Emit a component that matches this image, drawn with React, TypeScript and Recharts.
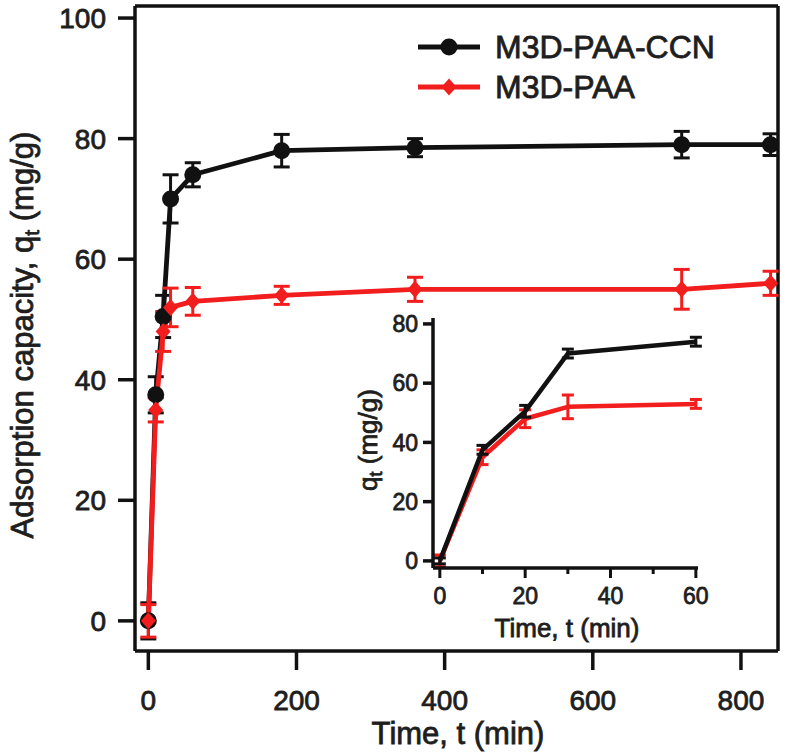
import React from 'react';
import { ComposedChart, LineChart, Line, XAxis, YAxis, ErrorBar, ReferenceLine } from 'recharts';

const times = [0, 10, 20, 30, 60, 180, 360, 720, 840];
const ccnValues = [0, 37.5, 50.5, 70, 74, 78, 78.5, 79, 79];
const ccnErrors = [3, 3, 3.5, 4, 2, 2.7, 1.5, 2.2, 1.8];
const paaValues = [0, 35, 48, 52, 53, 54, 55, 55, 56];
const paaErrors = [2.7, 2, 3.3, 3.2, 2.3, 1.5, 2, 3.3, 2];

// the inset shows the first hour with its own (smaller) error bars
const insetMaxTime = 60;
const insetCcnErrors = [1, 1.5, 2, 1.5, 1.5];
const insetPaaErrors = [2, 2.5, 3, 4, 1.5];

const mainXTicks = [0, 200, 400, 600, 800];
const mainYTicks = [0, 20, 40, 60, 80, 100];
const insetXTicks = [0, 10, 20, 30, 40, 50, 60];
const insetXLabels = [0, 20, 40, 60];
const insetYTicks = [0, 20, 40, 60, 80];

const BLACK = '#111111';
const RED = '#f21d1d';
const TEXT = '#1e1e1e';
const FONT = '"Liberation Sans", Arial, Helvetica, sans-serif';
const HEAVY = 0.8; // a thin outline makes the text look as heavy as the scanned figure

const rows = times.map((t, i) => ({
  t,
  ccn: ccnValues[i],
  ccnErr: ccnErrors[i],
  paa: paaValues[i],
  paaErr: paaErrors[i],
}));

const insetRows = rows
  .filter((r) => r.t <= insetMaxTime)
  .map((r, i) => ({ ...r, ccnErr: insetCcnErrors[i], paaErr: insetPaaErrors[i] }));

const textStyle = { fill: TEXT, stroke: TEXT, strokeWidth: HEAVY, fontFamily: FONT };

const Diamond = (props: any) => {
  const { cx, cy, index } = props;
  if (cx == null || cy == null) return null;
  return (
    <path
      key={`d-${index}`}
      d={`M${cx},${cy - 8.5}L${cx + 7.5},${cy}L${cx},${cy + 8.5}L${cx - 7.5},${cy}Z`}
      fill={RED}
    />
  );
};

const renderInsetTick = (props: any) => {
  const { x, y, payload } = props;
  const major = insetXLabels.includes(payload.value);
  return (
    <g key={`it-${payload.value}`}>
      <line x1={x} x2={x} y1={y} y2={y + (major ? 10 : 6)} stroke={BLACK} strokeWidth={3} />
      {major && (
        <text x={x} y={y + 20} dy="0.71em" textAnchor="middle" fontSize={23} {...textStyle}>
          {payload.value}
        </text>
      )}
    </g>
  );
};

const LegendRow = ({ color, label, diamond }: { color: string; label: string; diamond?: boolean }) => (
  <div style={{ display: 'flex', alignItems: 'center', height: 40 }}>
    <svg width={62} height={20}>
      <line x1={0} x2={62} y1={10} y2={10} stroke={color} strokeWidth={5} />
      {diamond ? (
        <path d="M31,1.5L38.5,10L31,18.5L23.5,10Z" fill={color} />
      ) : (
        <circle cx={31} cy={10} r={8.5} fill={color} />
      )}
    </svg>
    <span
      style={{
        marginLeft: 15,
        fontSize: 32,
        lineHeight: '40px',
        color: TEXT,
        fontFamily: FONT,
        WebkitTextStroke: `${HEAVY}px ${TEXT}`,
      }}
    >
      {label}
    </span>
  </div>
);

export default function App() {
  return (
    <div style={{ position: 'absolute', left: 0, top: 0, width: 787, height: 756, background: '#fff', fontFamily: FONT }}>
      <div style={{ position: 'absolute', left: 0, top: 0 }}>
        <ComposedChart width={787} height={756} data={rows} margin={{ top: 6, right: 9, bottom: 0, left: 0 }}>
          <XAxis
            dataKey="t"
            type="number"
            domain={[-18, 850]}
            ticks={mainXTicks}
            interval={0}
            allowDataOverflow
            height={105}
            tickSize={19}
            tickMargin={20}
            stroke={BLACK}
            strokeWidth={3.5}
            tick={{ ...textStyle, fontSize: 28 }}
          />
          <YAxis
            type="number"
            domain={[-5, 102]}
            ticks={mainYTicks}
            interval={0}
            allowDataOverflow
            width={135}
            tickSize={17}
            tickMargin={12}
            stroke={BLACK}
            strokeWidth={3.5}
            tick={{ ...textStyle, fontSize: 28 }}
          />
          <ReferenceLine x={850} stroke={BLACK} strokeWidth={3.5} />
          <ReferenceLine y={102} stroke={BLACK} strokeWidth={3.5} />
          <Line
            dataKey="ccn"
            stroke={BLACK}
            strokeWidth={4.8}
            strokeLinejoin="round"
            dot={{ r: 8.5, fill: BLACK, stroke: BLACK, strokeWidth: 0 }}
            isAnimationActive={false}
          >
            <ErrorBar dataKey="ccnErr" width={8} strokeWidth={3} stroke={BLACK} isAnimationActive={false} />
          </Line>
          <Line
            dataKey="paa"
            stroke={RED}
            strokeWidth={4.8}
            strokeLinejoin="round"
            dot={Diamond}
            isAnimationActive={false}
          >
            <ErrorBar dataKey="paaErr" width={8} strokeWidth={3} stroke={RED} isAnimationActive={false} />
          </Line>
        </ComposedChart>
      </div>

      <div style={{ position: 'absolute', left: 340, top: 300 }}>
        <LineChart width={400} height={345} data={insetRows} margin={{ top: 18, right: 42, bottom: 0, left: 0 }}>
          <XAxis
            dataKey="t"
            type="number"
            domain={[-1.6, 60.5]}
            ticks={insetXTicks}
            interval={0}
            allowDataOverflow
            height={77}
            tickLine={false}
            tickSize={0}
            tickMargin={0}
            stroke={BLACK}
            strokeWidth={3.5}
            tick={renderInsetTick}
          />
          <YAxis
            type="number"
            domain={[-2.4, 82]}
            ticks={insetYTicks}
            interval={0}
            allowDataOverflow
            width={93}
            tickSize={10}
            tickMargin={5}
            stroke={BLACK}
            strokeWidth={3.5}
            tick={{ ...textStyle, fontSize: 23 }}
          />
          <Line dataKey="paa" stroke={RED} strokeWidth={4.5} strokeLinejoin="round" dot={false} isAnimationActive={false}>
            <ErrorBar dataKey="paaErr" width={6} strokeWidth={3} stroke={RED} isAnimationActive={false} />
          </Line>
          <Line dataKey="ccn" stroke={BLACK} strokeWidth={4.5} strokeLinejoin="round" dot={false} isAnimationActive={false}>
            <ErrorBar dataKey="ccnErr" width={6} strokeWidth={3} stroke={BLACK} isAnimationActive={false} />
          </Line>
        </LineChart>
      </div>

      <svg width={787} height={756} style={{ position: 'absolute', left: 0, top: 0, pointerEvents: 'none' }}>
        <text x={33} y={335} transform="rotate(-90 33 335)" textAnchor="middle" fontSize={31} {...textStyle}>
          Adsorption capacity, q<tspan fontSize={21} dy={6}>t</tspan>
          <tspan dy={-6}> (mg/g)</tspan>
        </text>
        <text x={458} y={744} textAnchor="middle" fontSize={31} {...textStyle}>
          Time, t (min)
        </text>
        <text x={377} y={440} transform="rotate(-90 377 440)" textAnchor="middle" fontSize={26} {...textStyle}>
          q<tspan fontSize={18} dy={5}>t</tspan>
          <tspan dy={-5}> (mg/g)</tspan>
        </text>
        <text x={567} y={637} textAnchor="middle" fontSize={26} {...textStyle}>
          Time, t (min)
        </text>
      </svg>

      <div style={{ position: 'absolute', left: 418, top: 27 }}>
        <LegendRow color={BLACK} label="M3D-PAA-CCN" />
        <LegendRow color={RED} label="M3D-PAA" diamond />
      </div>
    </div>
  );
}
